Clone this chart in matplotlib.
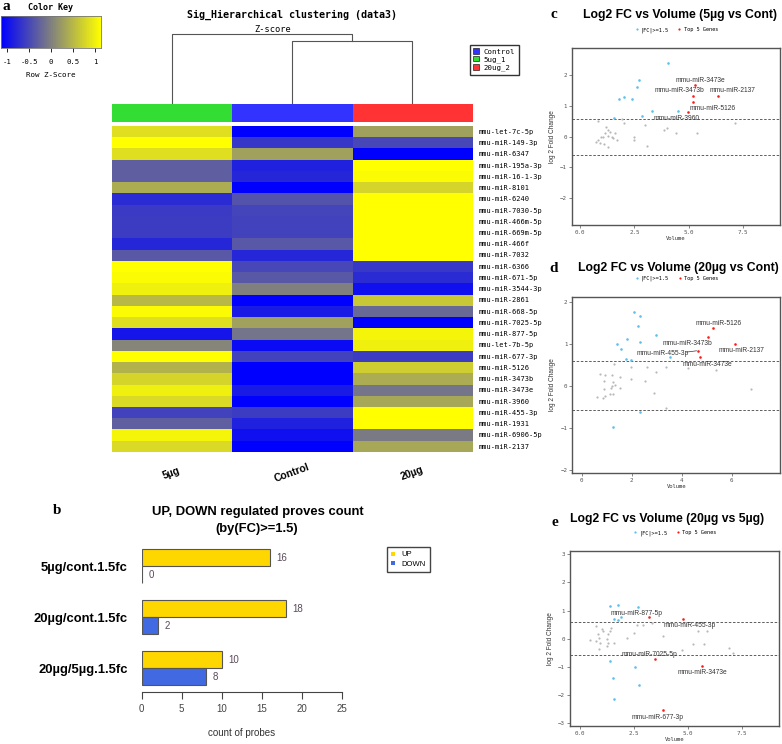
import matplotlib
matplotlib.use("Agg")
import matplotlib.pyplot as plt
import numpy as np
from matplotlib.colors import LinearSegmentedColormap, ListedColormap
from matplotlib.lines import Line2D
from matplotlib.patches import Patch

W, H = 782, 744
MONO = "DejaVu Sans Mono"
SANS = "Liberation Sans"
SERIF = "Liberation Serif"

# ---------------- panel a: heatmap data ----------------
mirnas = ["mmu-let-7c-5p", "mmu-miR-149-3p", "mmu-miR-6347", "mmu-miR-195a-3p",
          "mmu-miR-16-1-3p", "mmu-miR-8101", "mmu-miR-6240", "mmu-miR-7030-5p",
          "mmu-miR-466m-5p", "mmu-miR-669m-5p", "mmu-miR-466f", "mmu-miR-7032",
          "mmu-miR-6366", "mmu-miR-671-5p", "mmu-miR-3544-3p", "mmu-miR-2861",
          "mmu-miR-668-5p", "mmu-miR-7025-5p", "mmu-miR-877-5p", "mmu-let-7b-5p",
          "mmu-miR-677-3p", "mmu-miR-5126", "mmu-miR-3473b", "mmu-miR-3473e",
          "mmu-miR-3960", "mmu-miR-455-3p", "mmu-miR-1931", "mmu-miR-6906-5p",
          "mmu-miR-2137"]
groups = ["5µg", "Control", "20µg"]
group_colors = ["#33dd33", "#3333ff", "#ff3333"]
legend_groups = ["Control", "5ug_1", "20ug_2"]
legend_colors = ["#3333ff", "#33dd33", "#ff3333"]
z_5ug = [0.85, 1.15, 0.85, -0.30, -0.30, 0.40, -0.75, -0.62, -0.60, -0.60, -0.80, -0.35,
         1.15, 1.10, 1.00, 0.50, 1.10, 0.85, -0.95, 0.05, 1.15, 0.45, 0.75, 1.00,
         0.80, -0.55, -0.30, 1.05, 0.80]
z_cont = [-1.15, -0.65, 0.30, -0.85, -0.80, -1.15, -0.40, -0.53, -0.55, -0.55, -0.35, -0.80,
          -0.50, -0.35, 0.00, -1.15, -0.90, 0.30, -0.10, -1.05, -0.55, -1.15, -1.15, -0.90,
          -1.15, -0.60, -0.85, -1.00, -1.15]
z_20ug = [0.30, -0.50, -1.15, 1.15, 1.10, 0.75, 1.15, 1.15, 1.15, 1.15, 1.15, 1.15,
          -0.65, -0.75, -1.00, 0.65, -0.20, -1.15, 1.05, 1.00, -0.60, 0.70, 0.40, -0.10,
          0.35, 1.15, 1.15, -0.05, 0.35]
key_ticks = [-1, -0.5, 0, 0.5, 1]
# dendrogram merge heights (control+20µg first, then 5µg)
merge_low, merge_root = 0.9, 1.0

# ---------------- panel b ----------------
comparisons = ["5µg/cont.1.5fc", "20µg/cont.1.5fc", "20µg/5µg.1.5fc"]
up_counts = [16, 18, 10]
down_counts = [0, 2, 8]

# ---------------- panel c ----------------
c_gray_x = [0.84, 1.92, 2.0, 1.2, 1.27, 1.15, 1.38, 1.61, 0.97, 1.07, 1.3, 1.46, 1.69, 0.72,
            0.92, 1.12, 1.27, 0.84, 1.5, 2.46, 2.5, 3.0, 3.07, 3.84, 4.0, 4.41, 5.38, 7.14]
c_gray_y = [0.52, 0.57, 0.44, 0.31, 0.22, 0.13, 0.16, 0.11, 0.0, -0.02, 0.02, 0.0, -0.11, -0.16,
            -0.2, -0.24, -0.33, -0.11, -0.05, 0.0, -0.11, 0.38, -0.29, 0.22, 0.29, 0.13, 0.13, 0.44]
c_sig_x = [4.04, 2.70, 2.6, 2.0, 1.77, 2.41, 3.3, 4.52, 2.83, 1.57]
c_sig_y = [2.39, 1.85, 1.63, 1.30, 1.22, 1.22, 0.85, 0.84, 0.68, 0.61]
c_top_x = [5.27, 5.19, 6.37, 5.22, 4.96]
c_top_y = [1.68, 1.34, 1.34, 1.12, 0.81]
c_top_names = ["mmu-miR-3473e", "mmu-miR-3473b", "mmu-miR-2137", "mmu-miR-5126", "mmu-miR-3960"]
c_lab_x = [5.53, 4.56, 6.99, 6.12, 4.42]
c_lab_y = [1.82, 1.50, 1.49, 0.93, 0.59]

# ---------------- panel d ----------------
d_gray_x = [0.71, 0.91, 1.2, 1.29, 1.53, 0.87, 1.24, 1.2, 1.17, 1.33, 1.51, 0.87, 0.6, 0.83,
            0.91, 1.13, 1.24, 1.97, 1.96, 2.6, 2.53, 2.97, 2.87, 3.37, 3.37, 4.23, 5.37, 6.77]
d_gray_y = [0.27, 0.25, 0.25, 0.51, 0.21, 0.1, 0.08, 0.0, -0.06, 0.02, -0.06, -0.08, -0.26, -0.3,
            -0.25, -0.21, -0.2, 0.45, 0.16, 0.45, 0.11, 0.32, -0.18, 0.44, -0.53, 0.43, 0.38, -0.08]
d_sig_x = [2.09, 2.33, 2.24, 2.96, 1.8, 2.31, 1.4, 1.57, 1.77, 1.97, 3.53, 2.33, 1.23]
d_sig_y = [1.75, 1.67, 1.42, 1.21, 1.11, 1.05, 0.99, 0.87, 0.64, 0.62, 0.69, -0.62, -0.99]
d_top_x = [5.24, 5.04, 6.12, 4.64, 4.73]
d_top_y = [1.38, 1.15, 0.99, 0.83, 0.69]
d_top_names = ["mmu-miR-5126", "mmu-miR-3473b", "mmu-miR-2137", "mmu-miR-455-3p", "mmu-miR-3473e"]
d_lab_x = [5.49, 4.22, 6.40, 3.24, 5.04]
d_lab_y = [1.47, 1.01, 0.83, 0.77, 0.51]

# ---------------- panel e ----------------
e_gray_x = [0.46, 0.74, 0.85, 0.9, 1.0, 1.08, 0.93, 0.74, 0.9, 1.31, 1.39, 1.23, 1.31, 1.23,
            1.57, 1.42, 2.19, 2.5, 2.62, 2.9, 3.33, 3.86, 4.71, 5.22, 5.48, 5.74, 5.9, 6.88, 7.07]
e_gray_y = [-0.06, 0.45, 0.15, 0.04, 0.35, 0.27, -0.14, -0.08, -0.38, 0.15, 0.27, 0.0, -0.14, -0.26,
            -0.16, 0.39, 0.04, 0.21, 0.47, 0.47, 0.54, 0.09, -0.4, -0.2, 0.27, -0.18, 0.27, -0.35, -0.52]
e_sig_x = [1.39, 1.74, 2.7, 1.57, 1.88, 1.74, 1.39, 2.55, 1.54, 2.75, 1.57]
e_sig_y = [1.15, 1.19, 1.13, 0.71, 0.76, 0.66, -0.79, -1.0, -1.4, -1.65, -2.16]
e_top_x = [3.21, 4.75, 3.47, 5.63, 3.86]
e_top_y = [0.76, 0.71, -0.73, -0.99, -2.55]
e_top_names = ["mmu-miR-877-5p", "mmu-miR-455-3p", "mmu-miR-7025-5p", "mmu-miR-3473e", "mmu-miR-677-3p"]
e_lab_x = [2.63, 5.06, 3.21, 5.66, 3.58]
e_lab_y = [0.89, 0.47, -0.58, -1.20, -2.79]

fc_cut = np.log2(1.5)


def px_axes(fig, left, top, right, bottom):
    return fig.add_axes([left / W, 1 - bottom / H, (right - left) / W, (bottom - top) / H])


def ftext(fig, x, y, s, **kw):
    fig.text(x / W, 1 - y / H, s, ha=kw.pop("ha", "center"), va=kw.pop("va", "center"), **kw)


fig = plt.figure(figsize=(W / 100, H / 100), dpi=100)

# ---------- a ----------
cmap = LinearSegmentedColormap.from_list("bgy", ["#0000ff", "#808080", "#ffff00"])
vlim = 1.14

key = px_axes(fig, 1, 16, 101, 48)
key.imshow(np.linspace(-vlim, vlim, 256)[None, :], cmap=cmap, aspect="auto",
           extent=[-vlim, vlim, 0, 1], vmin=-vlim, vmax=vlim)
key.set_yticks([])
key.set_xticks(key_ticks)
key.set_xticklabels(["-1", "-0.5", "0", "0.5", "1"], fontfamily=MONO, fontsize=5.2)
key.tick_params(axis="x", length=3, width=0.6, pad=5)
for s in key.spines.values():
    s.set_color("#777")
    s.set_linewidth(0.6)
ftext(fig, 51, 8, "Color Key", fontfamily=MONO, fontsize=6, fontweight="bold")
ftext(fig, 51, 75, "Row Z-Score", fontfamily=MONO, fontsize=5.4)

z = np.column_stack([z_5ug, z_cont, z_20ug])
hm = px_axes(fig, 111.7, 125.7, 472, 451.7)
hm.imshow(z, cmap=cmap, vmin=-vlim, vmax=vlim, aspect="auto", interpolation="nearest")
hm.set_xticks([])
hm.yaxis.tick_right()
hm.set_yticks(range(len(mirnas)))
hm.set_yticklabels(mirnas, fontfamily=MONO, fontsize=5)
hm.tick_params(axis="y", length=0, pad=5)
for s in hm.spines.values():
    s.set_visible(False)
for j, g in enumerate(groups):
    hm.text(j, -0.065, g, transform=hm.get_xaxis_transform(), rotation=20,
            ha="center", va="center", fontfamily=SANS, fontweight="bold", fontsize=7.5)

gb = px_axes(fig, 111.7, 104, 472, 122)
gb.imshow([[0, 1, 2]], cmap=ListedColormap(group_colors), aspect="auto", interpolation="nearest")
gb.axis("off")

dn = px_axes(fig, 111.7, 34, 472, 103)
dn.set_xlim(-0.5, 2.5)
dn.set_ylim(0, 1)
dn.axis("off")
lc = dict(color="#555", lw=0.8, clip_on=False)
dn.plot([1, 1, 2, 2], [0, merge_low, merge_low, 0], **lc)
dn.plot([0, 0, 1.5, 1.5], [0, merge_root, merge_root, merge_low], **lc)

ftext(fig, 292, 15, "Sig_Hierarchical clustering (data3)", fontfamily=MONO, fontsize=7.2,
      fontweight="bold")
ftext(fig, 273, 29, "Z-score", fontfamily=MONO, fontsize=6.2)
fig.legend([Patch(facecolor=c, edgecolor="#222", lw=0.5) for c in legend_colors], legend_groups,
           loc="upper left", bbox_to_anchor=(466 / W, 1 - 41 / H), prop=dict(family=MONO, size=5.3),
           handlelength=0.8, handleheight=0.8, handletextpad=0.6, labelspacing=0.15,
           borderpad=0.5, fancybox=False, edgecolor="#333", framealpha=1)
ftext(fig, 6, 6, "a", fontfamily=SERIF, fontweight="bold", fontsize=11)

# ---------- b ----------
bx = px_axes(fig, 141.7, 532, 341.7, 692)
pos = np.arange(len(comparisons)) * 3
bx.barh(pos + 1.5, up_counts, height=1, color="#FFD700", edgecolor="#555", lw=0.8)
bx.barh(pos + 2.5, down_counts, height=1, color="#4169E1", edgecolor="#555", lw=0.8)
for p, u, d in zip(pos, up_counts, down_counts):
    bx.annotate(str(u), (u, p + 1.5), xytext=(5, 0), textcoords="offset points", va="center",
                fontfamily=SANS, fontsize=7, color="#5a4a5a")
    bx.annotate(str(d), (d, p + 2.5), xytext=(5, 0), textcoords="offset points", va="center",
                fontfamily=SANS, fontsize=7, color="#5a4a5a")
bx.set_xlim(0, 25)
bx.set_ylim(9.41, 0)
bx.set_yticks(pos + 2)
bx.set_yticklabels(comparisons, fontfamily=SANS, fontweight="bold", fontsize=9.4)
bx.tick_params(axis="y", length=0, pad=10)
bx.set_xticks([0, 5, 10, 15, 20, 25])
bx.tick_params(axis="x", length=5, width=0.8, colors="#444", labelsize=7, pad=4)
for lab in bx.get_xticklabels():
    lab.set_fontfamily(SANS)
for s in ["top", "right", "left"]:
    bx.spines[s].set_visible(False)
bx.spines["bottom"].set_color("#444")
bx.set_xlabel("count of probes", fontfamily=SANS, fontsize=7, color="#333", labelpad=10)
fig.legend([Patch(facecolor="#FFD700"), Patch(facecolor="#4169E1")], ["UP", "DOWN"],
           loc="upper left", bbox_to_anchor=(383 / W, 1 - 543 / H), prop=dict(family=SANS, size=5.5),
           handlelength=0.5, handleheight=0.5, handletextpad=0.8, labelspacing=0.3,
           borderpad=0.6, fancybox=False, edgecolor="#444", framealpha=1)
ftext(fig, 258, 512, "UP, DOWN regulated proves count", fontfamily=SANS, fontweight="bold",
      fontsize=9.4)
ftext(fig, 257, 529, "(by(FC)>=1.5)", fontfamily=SANS, fontweight="bold", fontsize=9.4)
ftext(fig, 57, 510, "b", fontfamily=SERIF, fontweight="bold", fontsize=11)


# ---------- c, d, e ----------
def ma_panel(box, xlim, ylim, xticks, xticklabels, yticks, gx, gy, sx, sy, tx, ty, names, lx, ly):
    ax = px_axes(fig, *box)
    ax.scatter(gx, gy, s=2.5, color="#b8b8b8", lw=0, zorder=2)
    ax.scatter(sx, sy, s=3.5, color="#5bc0eb", lw=0, zorder=3)
    ax.scatter(tx, ty, s=3.5, color="#ff1a1a", lw=0, zorder=4)
    for n, x, y in zip(names, lx, ly):
        ax.text(x, y, n, fontfamily=SANS, fontsize=4.8, color="#333", ha="center", va="center",
                zorder=5)
    ax.axhline(fc_cut, color="#444", ls=(0, (3, 2)), lw=0.6, zorder=1)
    ax.axhline(-fc_cut, color="#444", ls=(0, (3, 2)), lw=0.6, zorder=1)
    ax.set_xlim(xlim)
    ax.set_ylim(ylim)
    ax.set_xticks(xticks)
    ax.set_xticklabels(xticklabels)
    ax.set_yticks(yticks)
    ax.tick_params(length=2, width=0.5, colors="#555", labelsize=4.2, pad=1.5)
    for lab in ax.get_xticklabels() + ax.get_yticklabels():
        lab.set_fontfamily(MONO)
    for s in ax.spines.values():
        s.set_color("#555")
        s.set_linewidth(1.0)
    ax.set_xlabel("Volume", fontfamily=MONO, fontsize=4, color="#333", labelpad=0.5)
    ax.set_ylabel("log 2 Fold Change", fontfamily=SANS, fontsize=4.7, color="#333", labelpad=3)
    hpx = box[3] - box[1]
    handles = [Line2D([], [], ls="", marker="o", ms=1.6, mew=0, color="#5bc0eb"),
               Line2D([], [], ls="", marker="o", ms=1.6, mew=0, color="#ff1a1a")]
    ax.legend(handles, ["|FC|>=1.5", "Top 5 Genes"], loc="center",
              bbox_to_anchor=(0.5, 1 + 18 / hpx), ncol=2, frameon=False,
              prop=dict(family=MONO, size=3.8), handletextpad=0.3, columnspacing=1.5,
              handlelength=1)
    return ax


ma_panel((572, 48, 780, 225), (-0.37, 9.2), (-2.88, 2.89), [0, 2.5, 5, 7.5],
         ["0.0", "2.5", "5.0", "7.5"], [-2, -1, 0, 1, 2],
         c_gray_x, c_gray_y, c_sig_x, c_sig_y, c_top_x, c_top_y, c_top_names, c_lab_x, c_lab_y)
ftext(fig, 680, 15, "Log2 FC vs Volume (5µg vs Cont)", fontfamily=SANS, fontweight="bold",
      fontsize=8.8)
ftext(fig, 554, 15, "c", fontfamily=SERIF, fontweight="bold", fontsize=11)

axd = ma_panel((572.3, 296.7, 780, 473.3), (-0.38, 7.93), (-2.09, 2.12), [0, 2, 4, 6],
               ["0", "2", "4", "6"], [-2, -1, 0, 1, 2],
               d_gray_x, d_gray_y, d_sig_x, d_sig_y, d_top_x, d_top_y, d_top_names, d_lab_x, d_lab_y)
axd.plot([d_lab_x[3] + 0.95, d_top_x[3] - 0.05], [d_lab_y[3] + 0.03, d_top_y[3]], color="#333",
         lw=0.5, zorder=4)
ftext(fig, 678, 268, "Log2 FC vs Volume (20µg vs Cont)", fontfamily=SANS, fontweight="bold",
      fontsize=8.8)
ftext(fig, 554, 268, "d", fontfamily=SERIF, fontweight="bold", fontsize=11)

ma_panel((570, 551, 779, 726), (-0.46, 9.21), (-3.11, 3.12), [0, 2.5, 5, 7.5],
         ["0.0", "2.5", "5.0", "7.5"], [-3, -2, -1, 0, 1, 2, 3],
         e_gray_x, e_gray_y, e_sig_x, e_sig_y, e_top_x, e_top_y, e_top_names, e_lab_x, e_lab_y)
ftext(fig, 667, 519, "Log2 FC vs Volume (20µg vs 5µg)", fontfamily=SANS, fontweight="bold",
      fontsize=8.8)
ftext(fig, 555, 522, "e", fontfamily=SERIF, fontweight="bold", fontsize=11)

fig.savefig("out.png", dpi=100)
